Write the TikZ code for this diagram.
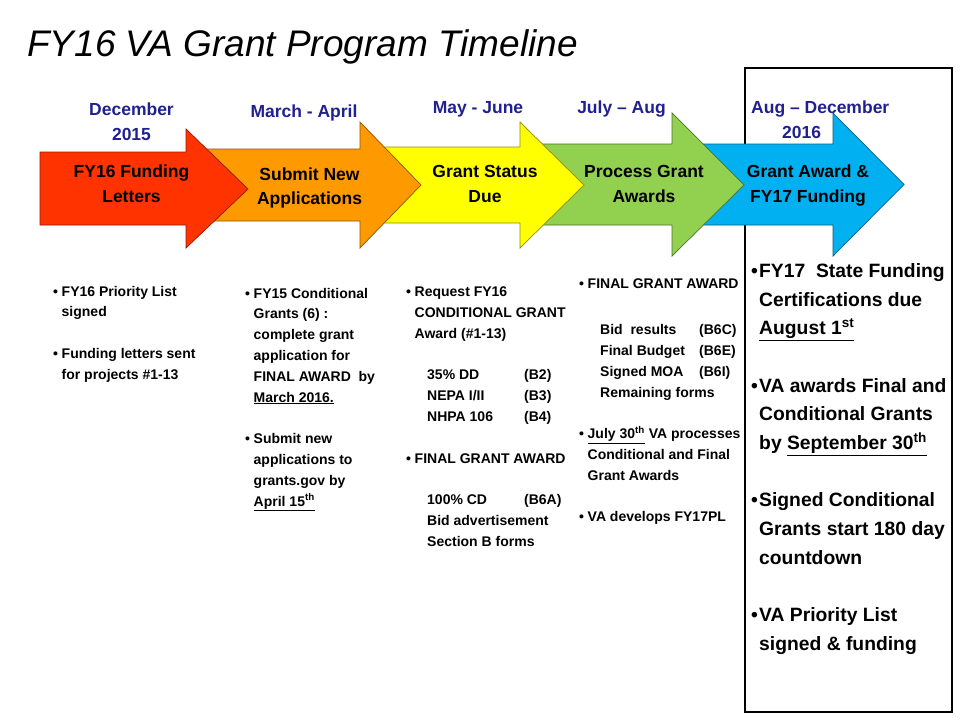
\documentclass[tikz,border=0pt]{standalone}
\usepackage{fontspec}
\setmainfont{Liberation Sans}
\usepackage{xcolor}
\usepackage{tikz}
\usetikzlibrary{positioning}
\definecolor{vaRed}{HTML}{FF3300}
\definecolor{vaOrange}{HTML}{FF9900}
\definecolor{vaYellow}{HTML}{FFFF00}
\definecolor{vaGreen}{HTML}{92D050}
\definecolor{vaBlue}{HTML}{00B0F0}
\definecolor{vaNavy}{HTML}{202090}
\newcommand{\bl}[1][8.5pt]{\makebox[#1][l]{\textbullet}}
\newcommand{\ind}[1][8.5pt]{\hspace*{#1}}
\newcommand{\subln}[2][97pt]{\hspace*{21pt}\makebox[#1][l]{#2}}

\begin{document}
\begin{tikzpicture}[x=1pt,y=-1pt,
  blk/.style={draw=#1!55!black,fill=#1,line width=0.7pt,line join=miter},
  when/.style={text=vaNavy,font=\fontsize{17.5}{25}\selectfont\bfseries,align=center,inner sep=0,anchor=north},
  what/.style={font=\fontsize{17.5}{24.6}\selectfont\bfseries,align=center,inner sep=0,anchor=north},
  note/.style={font=\fontsize{14}{20.8}\selectfont\bfseries,align=left,inner sep=0,anchor=north west},
  big/.style={font=\fontsize{19.3}{28.7}\selectfont\bfseries,align=left,inner sep=0,anchor=north west}]
  \useasboundingbox (0,0) rectangle (960,720);
  % title
  \node[anchor=base west,inner sep=0,font=\fontsize{37}{42}\selectfont\itshape] (title) at (27,56) {FY16 VA Grant Program Timeline};
  % frame round the last step
  \draw[line width=1.5pt] (745,68) rectangle (952,712);
  % arrows, last one first so that each lies under the one before
  \filldraw[blk=vaBlue] (690,144) -- (833,144) -- (833,113) -- (904,184.5) -- (833,256) -- (833,225) -- (690,225) -- cycle;
  \filldraw[blk=vaGreen] (535,144) -- (672,144) -- (672,113) -- (744,185) -- (672,256) -- (672,225) -- (535,225) -- cycle;
  \filldraw[blk=vaYellow] (372,147) -- (520,147) -- (520,122) -- (584,185) -- (520,248) -- (520,223) -- (372,223) -- cycle;
  \filldraw[blk=vaOrange] (198,149) -- (360,149) -- (360,122) -- (421,185) -- (360,248) -- (360,221) -- (198,221) -- cycle;
  \filldraw[blk=vaRed] (40,152) -- (186,152) -- (186,129) -- (248,189) -- (186,248) -- (186,225) -- (40,225) -- cycle;
  % arrow texts
  \node[what] (a1) at (131.5,165) {FY16 Funding\\Letters};
  \node[what] (a2) at (309.5,167.3) {Submit New\\Applications};
  \node[what] (a3) at (485,165) {Grant Status\\Due};
  \node[what] (a4) at (644,165) {Process Grant\\Awards};
  \node[what] (a5) at (808,164.6) {Grant Award \&\\FY17 Funding};
  % dates
  \node[when] (d1) at (131.5,102.5) {December\\2015};
  \node[when] (d2) at (304,104.8) {March - April};
  \node[when] (d3) at (478,100.8) {May - June};
  \node[when] (d4) at (621.5,100.5) {July – Aug};
  \node[when,anchor=north west,align=left] (d5) at (751,100.8) {Aug – December\\\hspace*{31pt}2016};
  % notes under each step
  \node[note] (n1) at (53,285.8) {\bl FY16 Priority List\\\ind signed\\[20.8pt]
    \bl Funding letters sent\\\ind for projects \#1-13};
  \node[note] (n2) at (245,287.8) {\bl FY15 Conditional\\\ind Grants (6) :\\\ind complete grant\\\ind application for\\\ind FINAL AWARD~ by\\\ind\underline{March 2016.}\\[20.8pt]
    \bl Submit new\\\ind applications to\\\ind grants.gov by\\\ind\underline{April 15\textsuperscript{th}}};
  \node[note] (n3) at (406,286.8) {\bl Request FY16\\\ind CONDITIONAL GRANT\\\ind Award (\#1-13)\\[20.8pt]
    \subln{35\% DD}(B2)\\\subln{NEPA I/II}(B3)\\\subln{NHPA 106}(B4)\\[20.8pt]
    \bl FINAL GRANT AWARD\\[20.8pt]
    \subln{100\% CD}(B6A)\\\hspace*{21pt}Bid advertisement\\\hspace*{21pt}Section B forms};
  \node[note] (n4) at (579,278.3) {\bl FINAL GRANT AWARD\\[25.7pt]
    \subln[99pt]{Bid~ results}(B6C)\\\subln[99pt]{Final Budget}(B6E)\\\subln[99pt]{Signed MOA}(B6I)\\\hspace*{21pt}Remaining forms\\[20.8pt]
    \bl\underline{July 30\textsuperscript{th}} VA processes\\\ind Conditional and Final\\\ind Grant Awards\\[20.8pt]
    \bl VA develops FY17PL};
  \node[big] (n5) at (751,263.2) {\bl[8pt]FY17~ State Funding\\\ind[8pt]Certifications due\\\ind[8pt]\underline{August 1\textsuperscript{st}}\\[28.7pt]
    \bl[8pt]VA awards Final and\\\ind[8pt]Conditional Grants\\\ind[8pt]by \underline{September 30\textsuperscript{th}}\\[28.7pt]
    \bl[8pt]Signed Conditional\\\ind[8pt]Grants start 180 day\\\ind[8pt]countdown\\[28.7pt]
    \bl[8pt]VA Priority List\\\ind[8pt]signed \& funding};
\end{tikzpicture}
\end{document}
